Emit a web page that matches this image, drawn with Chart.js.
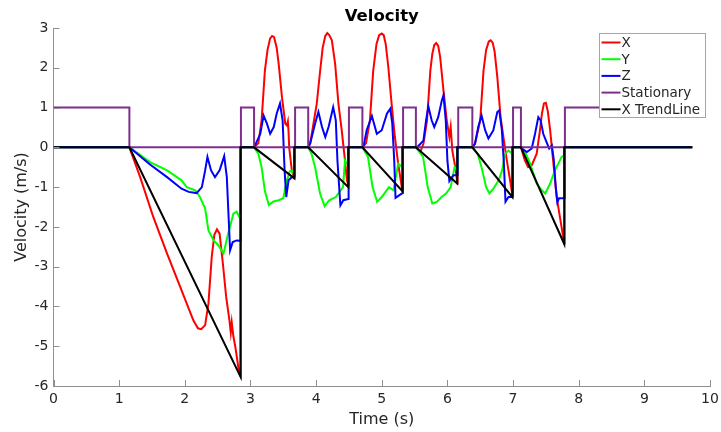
<!DOCTYPE html>
<html>
<head>
<meta charset="utf-8">
<script src="https://cdn.jsdelivr.net/npm/chart.js@4.4.1/dist/chart.umd.min.js"></script>
<style>
  html, body { margin: 0; padding: 0; background: #fff; }
  #wrap { width: 721px; height: 432px; }
</style>
</head>
<body>
<div id="wrap"><canvas id="graficoVel" width="721" height="432"></canvas></div>
<script>
// valores (tiempo en s, velocidad en m/s)
const xT = [0, 1.156, 1.32, 1.52, 1.73, 1.93, 2.03, 2.13, 2.20, 2.25, 2.31, 2.36, 2.41, 2.45, 2.49, 2.53, 2.58, 2.63, 2.68, 2.70, 2.715, 2.74, 2.77, 2.83, 2.85, 2.85,
  3.055, 3.12, 3.17, 3.22, 3.26, 3.30, 3.33, 3.36, 3.40, 3.43, 3.48, 3.53, 3.555, 3.57, 3.58, 3.59, 3.63, 3.665, 3.67,
  3.88, 3.91, 4.01, 4.06, 4.10, 4.14, 4.17, 4.20, 4.24, 4.29, 4.34, 4.39, 4.44, 4.47, 4.49, 4.495,
  4.705, 4.76, 4.82, 4.87, 4.92, 4.96, 5.0, 5.03, 5.06, 5.1, 5.15, 5.2, 5.25, 5.305, 5.315, 5.32,
  5.52, 5.585, 5.635, 5.69, 5.74, 5.77, 5.80, 5.83, 5.86, 5.89, 5.94, 5.99, 6.03, 6.05, 6.075, 6.12, 6.14, 6.15, 6.155,
  6.38, 6.42, 6.5, 6.55, 6.59, 6.63, 6.66, 6.69, 6.72, 6.76, 6.81, 6.86, 6.905, 6.955, 6.99, 6.995,
  7.12, 7.18, 7.23, 7.285, 7.36, 7.41, 7.44, 7.47, 7.50, 7.53, 7.565, 7.615, 7.665, 7.73, 7.78, 7.785, 9.73];
const xV = [0, 0, -0.75, -1.75, -2.67, -3.51, -3.93, -4.35, -4.55, -4.57, -4.47, -3.93, -2.76, -2.2, -2.06, -2.17, -2.92, -3.76, -4.35, -4.65, -4.4, -4.75, -5.02, -5.69, -5.75, 0,
  0, 0.1, 0.68, 1.93, 2.45, 2.74, 2.8, 2.77, 2.5, 2.1, 1.26, 0.6, 0.55, 0.65, 0.4, 0, -0.58, -0.76, 0,
  0, 0.1, 1.1, 1.9, 2.5, 2.8, 2.87, 2.82, 2.69, 2.1, 1.1, 0.43, -0.33, -0.83, -0.95, 0,
  0, 0.1, 0.68, 1.93, 2.6, 2.82, 2.86, 2.82, 2.6, 2.02, 1.1, 0.26, -0.41, -1.0, -1.08, 0,
  0, -0.12, 0.09, 0.68, 1.93, 2.35, 2.57, 2.62, 2.55, 2.27, 1.43, 0.68, 0.26, 0.51, -0.08, -0.5, -0.75, -0.9, 0,
  0, 0.09, 0.68, 1.93, 2.45, 2.66, 2.69, 2.63, 2.4, 1.77, 0.76, 0.18, -0.33, -0.83, -1.2, 0,
  0, -0.33, -0.5, -0.45, -0.16, 0.43, 0.85, 1.1, 1.12, 0.9, 0.43, -0.41, -1.25, -1.92, -2.42, 0, 0];

const yT = [0, 1.156, 1.47, 1.73, 1.95, 2.03, 2.16, 2.23, 2.31, 2.36, 2.44, 2.51, 2.59, 2.66, 2.74, 2.79, 2.83, 2.85, 2.85,
  3.055, 3.12, 3.17, 3.22, 3.28, 3.35, 3.43, 3.5, 3.555, 3.6, 3.645, 3.665, 3.67,
  3.88, 3.93, 3.985, 4.06, 4.13, 4.2, 4.3, 4.41, 4.44, 4.47, 4.49, 4.495,
  4.705, 4.79, 4.86, 4.93, 5.0, 5.11, 5.18, 5.25, 5.28, 5.315, 5.32,
  5.52, 5.63, 5.7, 5.77, 5.84, 5.91, 5.98, 6.05, 6.11, 6.15, 6.155,
  6.38, 6.46, 6.52, 6.59, 6.64, 6.70, 6.78, 6.83, 6.88, 6.93, 6.99, 6.995,
  7.12, 7.18, 7.26, 7.36, 7.44, 7.49, 7.565, 7.64, 7.69, 7.74, 7.78, 7.785, 9.73];
const yV = [0, 0, -0.37, -0.58, -0.83, -1.0, -1.08, -1.25, -1.54, -2.09, -2.34, -2.46, -2.67, -2.17, -1.67, -1.62, -1.75, -1.75, 0,
  0, -0.16, -0.5, -1.1, -1.45, -1.36, -1.33, -1.28, -0.83, -0.6, -0.58, -0.72, 0,
  0, -0.16, -0.5, -1.16, -1.48, -1.33, -1.25, -1.0, -0.33, -0.4, -0.37, 0,
  0, -0.24, -1.0, -1.37, -1.25, -1.0, -1.08, -0.41, -0.45, -0.5, 0,
  0, -0.24, -1.0, -1.41, -1.37, -1.25, -1.16, -1.0, -0.49, -0.58, 0,
  0, -0.16, -0.5, -1.0, -1.16, -1.04, -0.83, -0.6, -0.16, -0.08, -0.16, 0,
  0, -0.1, -0.41, -0.91, -1.08, -1.16, -0.91, -0.57, -0.41, -0.24, -0.2, 0, 0];

const zT = [0, 1.156, 1.47, 1.73, 1.95, 2.06, 2.18, 2.26, 2.31, 2.345, 2.40, 2.46, 2.53, 2.60, 2.64, 2.69, 2.73, 2.79, 2.85, 2.85,
  3.055, 3.15, 3.2, 3.25, 3.30, 3.355, 3.40, 3.45, 3.49, 3.52, 3.545, 3.58, 3.63, 3.665, 3.67,
  3.88, 3.91, 3.985, 4.035, 4.09, 4.14, 4.19, 4.26, 4.30, 4.325, 4.37, 4.415, 4.49, 4.495,
  4.705, 4.72, 4.77, 4.85, 4.925, 5.0, 5.08, 5.13, 5.16, 5.19, 5.21, 5.27, 5.315, 5.32,
  5.52, 5.55, 5.635, 5.675, 5.71, 5.76, 5.80, 5.86, 5.915, 5.94, 5.975, 6.0, 6.03, 6.05, 6.09, 6.15, 6.155,
  6.38, 6.42, 6.47, 6.52, 6.575, 6.625, 6.70, 6.76, 6.79, 6.83, 6.86, 6.885, 6.93, 6.99, 6.995,
  7.12, 7.15, 7.21, 7.285, 7.335, 7.385, 7.42, 7.46, 7.51, 7.55, 7.59, 7.62, 7.65, 7.675, 7.70, 7.78, 7.785, 9.73];
const zV = [0, 0, -0.43, -0.75, -1.04, -1.12, -1.15, -1.0, -0.58, -0.24, -0.58, -0.75, -0.58, -0.22, -0.75, -2.59, -2.38, -2.34, -2.35, 0,
  0, 0.34, 0.8, 0.6, 0.34, 0.51, 0.85, 1.1, 0.68, -0.58, -1.25, -0.83, -0.75, -0.73, 0,
  0, 0.1, 0.6, 0.89, 0.51, 0.26, 0.51, 1.01, 0.68, -0.33, -1.46, -1.33, -1.3, 0,
  0, 0, 0.43, 0.79, 0.34, 0.43, 0.85, 0.97, 0.6, -0.33, -1.27, -1.2, -1.15, 0,
  0, 0.02, 0.17, 0.68, 1.03, 0.68, 0.51, 0.76, 1.18, 1.31, 0.68, -0.33, -0.85, -0.8, -0.7, -0.7, 0,
  0, 0.09, 0.51, 0.8, 0.43, 0.22, 0.43, 0.89, 0.93, 0.43, -0.41, -1.37, -1.25, -1.25, 0,
  0, -0.05, -0.12, -0.03, 0.34, 0.76, 0.68, 0.34, 0.13, -0.03, 0.05, -0.3, -1.0, -1.38, -1.28, -1.28, 0, 0];

const statT = [0, 1.156, 1.156, 2.855, 2.855, 3.055, 3.055, 3.68, 3.68, 3.88, 3.88, 4.50, 4.50, 4.705, 4.705, 5.325, 5.325, 5.52, 5.52, 6.165, 6.165, 6.38, 6.38, 7.0, 7.0, 7.12, 7.12, 7.79, 7.79, 9.73];
const statV = [1, 1, 0, 0, 1, 1, 0, 0, 1, 1, 0, 0, 1, 1, 0, 0, 1, 1, 0, 0, 1, 1, 0, 0, 1, 1, 0, 0, 1, 1];

const trendT = [0, 1.156, 2.85, 2.85, 3.055, 3.67, 3.67, 3.88, 4.49, 4.49, 4.705, 5.315, 5.315, 5.52, 6.15, 6.15, 6.38, 6.99, 6.99, 7.12, 7.78, 7.78, 9.73];
const trendV = [0, 0, -5.77, 0, 0, -0.78, 0, 0, -1.0, 0, 0, -1.1, 0, 0, -0.91, 0, 0, -1.25, 0, 0, -2.43, 0, 0];

const xTicks = [0, 1, 2, 3, 4, 5, 6, 7, 8, 9, 10];
const yTicks = [-6, -5, -4, -3, -2, -1, 0, 1, 2, 3];

const etiquetas = ["X", "Y", "Z", "Stationary", "X TrendLine"];
const colores = ["#ff0000", "#00ff00", "#0000ff", "#7e2f8e", "#000000"];

const fuente = "'DejaVu Sans', sans-serif";
const grisEje = "#8f8f8f";

function puntos(ts, vs) { return ts.map((t, i) => ({ x: t, y: vs[i] })); }

const series = [puntos(xT, xV), puntos(yT, yV), puntos(zT, zV), puntos(statT, statV), puntos(trendT, trendV)];

// el orden de dibujo de Chart.js pone el indice 0 encima: se invierten
const datasets = series.map((d, i) => ({
  label: etiquetas[i], data: d, borderColor: colores[i], backgroundColor: colores[i],
  showLine: true, pointRadius: 0, borderWidth: 2, fill: false, tension: 0
})).reverse();

// titulo, marcas de eje hacia dentro y leyenda dentro del area
const extras = {
  id: "extras",
  afterDraw(chart) {
    const ctx = chart.ctx;
    const xs = chart.scales.x, ys = chart.scales.y;
    const area = chart.chartArea;
    ctx.save();
    ctx.strokeStyle = grisEje;
    ctx.lineWidth = 1;
    ctx.beginPath();
    xTicks.forEach(v => {
      const px = Math.round(xs.getPixelForValue(v)) + 0.5;
      ctx.moveTo(px, area.bottom); ctx.lineTo(px, area.bottom - 6);
    });
    yTicks.forEach(v => {
      const py = Math.round(ys.getPixelForValue(v)) + 0.5;
      ctx.moveTo(area.left, py); ctx.lineTo(area.left + 6, py);
    });
    ctx.stroke();

    ctx.fillStyle = "#000";
    ctx.font = "bold 16.5px " + fuente;
    ctx.textAlign = "center";
    ctx.textBaseline = "alphabetic";
    ctx.fillText("Velocity", (area.left + area.right) / 2, 20.5);

    // leyenda
    const bx = 599.5, by = 33.5, bw = 106, bh = 84, paso = 16.7;
    ctx.fillStyle = "#fff";
    ctx.fillRect(bx, by, bw, bh);
    ctx.strokeStyle = "#a6a6a6";
    ctx.strokeRect(bx, by, bw, bh);
    ctx.font = "13.5px " + fuente;
    ctx.textAlign = "left";
    ctx.textBaseline = "middle";
    etiquetas.forEach((et, i) => {
      const yy = 42.5 + i * paso;
      ctx.strokeStyle = colores[i];
      ctx.lineWidth = 2;
      ctx.beginPath();
      ctx.moveTo(bx + 2, yy); ctx.lineTo(bx + 21, yy);
      ctx.stroke();
      ctx.fillStyle = "#262626";
      ctx.fillText(et, bx + 22, yy + 1);
    });
    ctx.restore();
  }
};

const ctx = document.getElementById("graficoVel").getContext("2d");
new Chart(ctx, {
  type: "scatter",
  data: { datasets },
  options: {
    responsive: false,
    animation: false,
    events: [],
    layout: { padding: 0 },
    plugins: { legend: { display: false }, tooltip: { enabled: false }, title: { display: false } },
    scales: {
      x: {
        type: "linear", min: 0, max: 10,
        // margenes fijos para que el area quede en 53.5..710 x 28..386
        afterFit: s => { s.height = 46; s.paddingLeft = 0; s.paddingRight = 11; },
        afterBuildTicks: s => { s.ticks = xTicks.map(v => ({ value: v })); },
        grid: { display: false, drawTicks: false },
        border: { display: true, color: grisEje, width: 1 },
        ticks: { padding: 5, color: "#262626", font: { family: fuente, size: 14 }, maxRotation: 0, autoSkip: false },
        title: { display: true, text: "Time (s)", color: "#262626", font: { family: fuente, size: 16 }, padding: { top: 0, bottom: 3 } }
      },
      y: {
        type: "linear", min: -6, max: 3,
        afterFit: s => { s.width = 53.5; s.paddingTop = 28; s.paddingBottom = 0; },
        afterBuildTicks: s => { s.ticks = yTicks.map(v => ({ value: v })); },
        grid: { display: false, drawTicks: false },
        border: { display: true, color: grisEje, width: 1 },
        ticks: { padding: 5, color: "#262626", font: { family: fuente, size: 14 }, autoSkip: false },
        title: { display: true, text: "Velocity (m/s)", color: "#262626", font: { family: fuente, size: 16 }, padding: { top: 12.5, bottom: 0 } }
      }
    }
  },
  plugins: [extras]
});
</script>
</body>
</html>
